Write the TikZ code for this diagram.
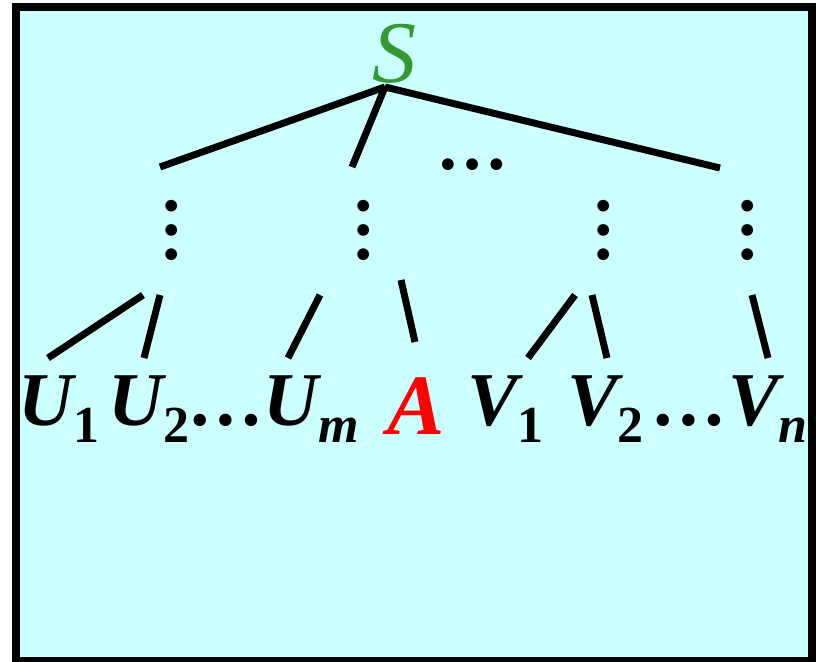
\documentclass[tikz,border=0pt]{standalone}
\usepackage{fontspec}
\setmainfont{Liberation Serif}
\definecolor{bgcyan}{HTML}{CCFFFF}
\definecolor{sgreen}{HTML}{339933}
\newcommand{\subtxt}[1]{\raisebox{-17pt}{\fontsize{52}{52}\selectfont\upshape #1}}
\begin{document}
\begin{tikzpicture}[x=1pt,y=-1pt,
  seg/.style={line width=7pt},
  lbl/.style={anchor=base west, inner sep=0pt, font=\fontsize{76}{80}\selectfont\bfseries\itshape},
  vdotsnode/.style={anchor=base, inner sep=0pt, rotate=90, font=\fontsize{72}{72}\selectfont\bfseries},
  hdotsnode/.style={anchor=base, inner sep=0pt, font=\fontsize{72}{72}\selectfont\bfseries}]
\useasboundingbox (0,0) rectangle (816,661);
\clip (0,0) rectangle (816,661);
\draw[line width=8pt, fill=bgcyan] (16,7) rectangle (812,661);
% root
\node[anchor=base west, inner sep=0pt, text=sgreen, font=\fontsize{88}{90}\selectfont\itshape] (s) at (372,82) {S};
\coordinate (root) at (385,87);
\coordinate (t1) at (160,167);
\coordinate (t2) at (352,167);
\coordinate (t3) at (720,168);
\draw[seg] (root) -- (t1);
\draw[seg] (root) -- (t2);
\draw[seg] (root) -- (t3);
\node[hdotsnode] (hd) at (472,169) {…};
% vertical dots
\node[vdotsnode] (vd1) at (176,230) {…};
\node[vdotsnode] (vd2) at (368,230) {…};
\node[vdotsnode] (vd3) at (608,230) {…};
\node[vdotsnode] (vd4) at (752,230) {…};
% lower segments
\coordinate (a1) at (143,295); \coordinate (b1) at (48,358);
\coordinate (a2) at (160,295); \coordinate (b2) at (144,358);
\coordinate (a3) at (320,295); \coordinate (b3) at (288,358);
\coordinate (a4) at (401,280); \coordinate (b4) at (415,342);
\coordinate (a5) at (575,295); \coordinate (b5) at (528,358);
\coordinate (a6) at (592,295); \coordinate (b6) at (607,358);
\coordinate (a7) at (752,295); \coordinate (b7) at (768,358);
\foreach \i in {1,...,7} {\draw[seg] (a\i) -- (b\i);}
% labels
\node[lbl] (u1) at (18,425) {U\subtxt{1}};
\node[lbl] (u2) at (108,425) {U\subtxt{2}};
\node[lbl] (ud) at (190,425) {…};
\node[lbl] (um) at (263,425) {U\subtxt{\itshape m}};
\node[lbl, text=red, font=\fontsize{86}{88}\selectfont\bfseries\itshape] (a) at (387,434) {A};
\node[lbl] (v1) at (467,425) {V\subtxt{1}};
\node[lbl] (v2) at (567,425) {V\subtxt{2}};
\node[lbl] (vd) at (653,425) {…};
\node[lbl] (vn) at (728,425) {V\subtxt{\itshape n}};
\end{tikzpicture}
\end{document}
